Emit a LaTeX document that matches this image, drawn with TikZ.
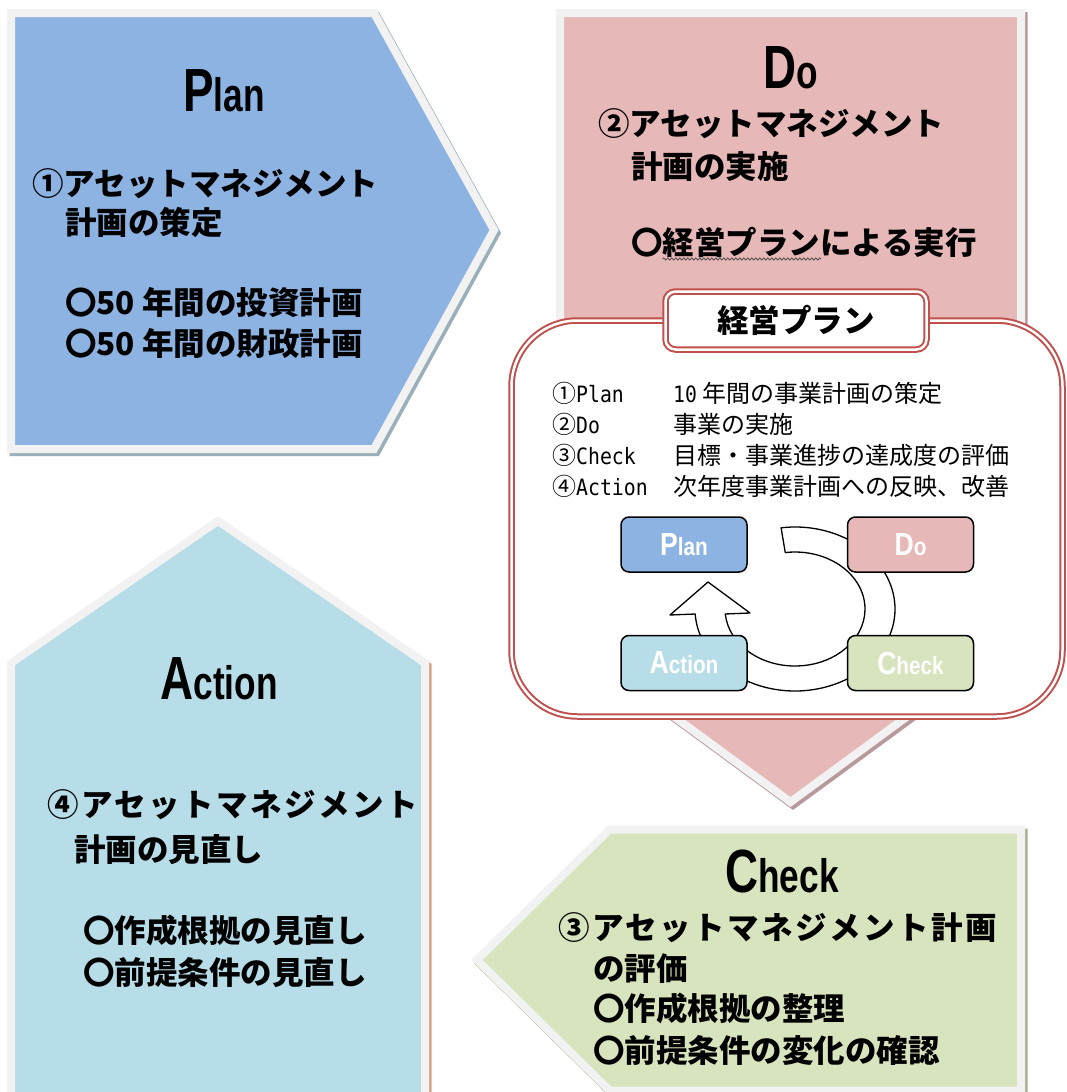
\documentclass[tikz,border=0pt]{standalone}
\usepackage{fontspec}
\usepackage{graphicx}
\usetikzlibrary{decorations.pathmorphing,calc}
\setmainfont{Noto Sans CJK JP}
\newfontfamily\ttlfont{Liberation Sans}[FakeStretch=0.75]
\newfontfamily\minifont{Liberation Sans}[FakeStretch=0.83]
\newfontfamily\monofont{DejaVu Sans Mono}[FakeStretch=0.88]
\newcommand\latn[1]{{\monofont\fontsize{22.5}{24}\selectfont #1}}
\newcommand\bigword[2]{{\fontsize{61}{61}\selectfont #1}{\fontsize{47}{47}\selectfont #2}}
\newcommand\miniword[2]{{\fontsize{32}{32}\selectfont #1}{\fontsize{25}{25}\selectfont #2}}
\definecolor{planc}{HTML}{8DB3E2}
\definecolor{doc}{HTML}{E6B9B8}
\definecolor{chkc}{HTML}{D7E4BD}
\definecolor{actc}{HTML}{B7DDE8}
\definecolor{bgray}{HTML}{F2F2F2}
\definecolor{redl}{HTML}{C0504D}
\definecolor{plansh}{HTML}{9AAFB9}
\definecolor{dosh}{HTML}{B89A9C}
\definecolor{actsh}{HTML}{D2A480}
\definecolor{chksh}{HTML}{A8B190}
\tikzset{
  bigjp/.style={font=\bfseries\fontsize{31.5}{36}\selectfont, inner sep=0pt, anchor=base west},
  bigjpsp/.style={font=\bfseries\fontsize{31.5}{36}\selectfont\addfontfeatures{LetterSpace=8}, inner sep=0pt, anchor=base west},
  titletext/.style={font=\ttlfont\bfseries, inner sep=0pt, anchor=base},
  listtext/.style={font=\fontsize{24}{28}\selectfont, inner sep=0pt, anchor=base west},
  minibox/.style={draw=black, line width=1.5pt, rounded corners=8pt, minimum width=126pt, minimum height=55pt, inner sep=0pt, font=\minifont\bfseries, text=white},
  bigshape/.style={draw=bgray, line width=8pt},
  shadowshape/.style={line width=8pt, shift={(2.5,3)}},
  redframe/.style={draw=redl, double=white, line width=2pt, double distance=2.5pt, fill=white},
  band/.style={draw=black, fill=white, line width=1.3pt, line join=round}
}
\begin{document}
\begin{tikzpicture}[x=1pt,y=-1pt]
\useasboundingbox (0,0) rectangle (1067,1092);
\clip (0,0) rectangle (1067,1092);

% ---------- Plan ----------
\filldraw[shadowshape, draw=plansh, fill=plansh] (11,13) -- (374,13) -- (494,230) -- (374,449) -- (11,449) -- cycle;
\filldraw[bigshape, fill=planc] (11,13) -- (374,13) -- (494,230) -- (374,449) -- (11,449) -- cycle;
\node[titletext] (plantitle) at (224,111) {\bigword{P}{lan}};
\node[bigjp] (p1) at (32,195) {①アセットマネジメント};
\node[bigjp] (p2) at (65,234) {計画の策定};
\node[bigjp] (p3) at (65,314) {〇50 年間の投資計画};
\node[bigjp] (p4) at (65,355) {〇50 年間の財政計画};

% ---------- Do ----------
\filldraw[shadowshape, draw=dosh, fill=dosh] (560,13) -- (1021,13) -- (1021,633) -- (790.5,802) -- (560,633) -- cycle;
\filldraw[bigshape, fill=doc] (560,13) -- (1021,13) -- (1021,633) -- (790.5,802) -- (560,633) -- cycle;
\node[titletext] (dotitle) at (791,88) {\bigword{D}{o}};
\node[bigjp] (d1) at (598,135) {②アセットマネジメント};
\node[bigjp] (d2) at (631,178) {計画の実施};
\node[bigjp] (d3) at (631,254) {〇経営プランによる実行};
\draw[decorate, decoration={snake, amplitude=1.1pt, segment length=4pt}, line width=0.7pt, draw=black!75] (662.5,259) -- (821,259);

% ---------- Action ----------
\filldraw[shadowshape, draw=actsh, fill=actsh] (218,521) -- (425,663) -- (425,1110) -- (11,1110) -- (11,663) -- cycle;
\filldraw[bigshape, fill=actc] (218,521) -- (425,663) -- (425,1110) -- (11,1110) -- (11,663) -- cycle;
\node[titletext] (acttitle) at (219,699) {\bigword{A}{ction}};
\node[bigjpsp] (a1) at (47,816) {④アセットマネジメント};
\node[bigjp] (a2) at (74,861) {計画の見直し};
\node[bigjp] (a3) at (83,942) {〇作成根拠の見直し};
\node[bigjp] (a4) at (83,984) {〇前提条件の見直し};

% ---------- Check ----------
\filldraw[shadowshape, draw=chksh, fill=chksh] (1021,829.5) -- (609.5,829.5) -- (477,960) -- (609.5,1090.5) -- (1021,1090.5) -- cycle;
\filldraw[bigshape, fill=chkc] (1021,829.5) -- (609.5,829.5) -- (477,960) -- (609.5,1090.5) -- (1021,1090.5) -- cycle;
\node[titletext] (chktitle) at (782,892) {\bigword{C}{heck}};
\node[bigjpsp] (c1) at (558,939) {③アセットマネジメント計画};
\node[bigjp] (c2) at (593,980) {の評価};
\node[bigjp] (c3) at (593,1020) {〇作成根拠の整理};
\node[bigjp] (c4) at (593,1062) {〇前提条件の変化の確認};

% ---------- 経営プラン box ----------
\draw[redframe, rounded corners=66pt] (511.5,320.5) rectangle (1062.5,716.5);
\node[redframe, rounded corners=10pt, minimum width=261pt, minimum height=58pt, inner sep=0pt,
      font=\bfseries\fontsize{31.5}{36}\selectfont] (tab) at (796,320.5) {経営プラン};

\node[listtext] (l1) at (552,402) {①\latn{Plan}};
\node[listtext] (l2) at (552,433) {②\latn{Do}};
\node[listtext] (l3) at (552,464) {③\latn{Check}};
\node[listtext] (l4) at (552,495) {④\latn{Action}};
\node[listtext] (r1) at (673,402) {\latn{10} 年間の事業計画の策定};
\node[listtext] (r2) at (673,433) {事業の実施};
\node[listtext] (r3) at (673,464) {目標・事業進捗の達成度の評価};
\node[listtext] (r4) at (673,495) {次年度事業計画への反映、改善};

% ---------- cycle ----------
\draw[band] ($(795,609)+(-98:100 and 82)$) arc[start angle=-98, end angle=176.5, x radius=100, y radius=82]
  -- (670,615) -- (708,582) -- (750,613)
  -- ($(795,609)+(175:70 and 57)$) arc[start angle=175, end angle=-98, x radius=70, y radius=57] -- cycle;
\node[minibox, fill=planc] (mplan) at (684,544.5) {\miniword{P}{lan}};
\node[minibox, fill=doc] (mdo) at (910.5,544.5) {\miniword{D}{o}};
\node[minibox, fill=actc] (mact) at (684,663) {\miniword{A}{ction}};
\node[minibox, fill=chkc] (mchk) at (910.5,663) {\miniword{C}{heck}};
\end{tikzpicture}
\end{document}
